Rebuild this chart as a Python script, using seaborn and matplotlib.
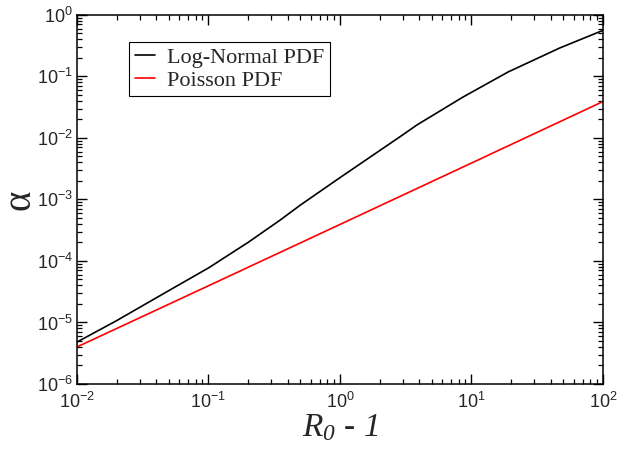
import numpy as np
import pandas as pd
import matplotlib
matplotlib.use('Agg')
import matplotlib.pyplot as plt
import seaborn as sns
from matplotlib.ticker import LogLocator

# Values
lognormal_x = [0.01, 0.02, 0.05, 0.1, 0.2, 0.35, 0.5, 1.0, 2.0, 3.0, 3.86, 8.6, 19.0, 47.0, 100.0]
lognormal_y = [4.8e-6, 1.07e-5, 3.3e-5, 7.7e-5, 2.0e-4, 4.6e-4, 8.1e-4, 2.26e-3,
               6.2e-3, 1.12e-2, 1.63e-2, 4.6e-2, 1.18e-1, 2.9e-1, 5.6e-1]
poisson_x = [0.01, 0.1, 1.0, 10.0, 100.0]
poisson_y = [4.0e-6, 3.95e-5, 3.92e-4, 3.9e-3, 3.9e-2]

df = pd.concat([
    pd.DataFrame({'x': lognormal_x, 'y': lognormal_y, 'series': 'Log-Normal PDF'}),
    pd.DataFrame({'x': poisson_x, 'y': poisson_y, 'series': 'Poisson PDF'}),
])

sns.set_style('ticks')
plt.rcParams['font.family'] = ['Liberation Sans', 'DejaVu Sans']
plt.rcParams['mathtext.fontset'] = 'custom'
plt.rcParams['mathtext.rm'] = 'Liberation Sans'
plt.rcParams['mathtext.it'] = 'Liberation Serif:italic'
plt.rcParams['mathtext.sf'] = 'Liberation Serif:italic'  # italic digits for the subscript
plt.rcParams['mathtext.default'] = 'regular'

fig = plt.figure(figsize=(6.28, 4.49), dpi=100)
ax = fig.add_axes([0.1226, 0.1448, 0.8374, 0.822])

sns.lineplot(
    data=df, x='x', y='y', hue='series',
    palette={'Log-Normal PDF': 'black', 'Poisson PDF': 'red'},
    linewidth=1.2, ax=ax, sort=False, estimator=None
)

ax.set_xscale('log')
ax.set_yscale('log')
ax.set_xlim(1e-2, 1e2)
ax.set_ylim(1e-6, 1e0)

ax.xaxis.set_major_locator(LogLocator(base=10, numticks=10))
ax.yaxis.set_major_locator(LogLocator(base=10, numticks=10))
ax.xaxis.set_minor_locator(LogLocator(base=10, subs=np.arange(2, 10), numticks=20))
ax.yaxis.set_minor_locator(LogLocator(base=10, subs=np.arange(2, 10), numticks=20))

ax.tick_params(which='both', direction='in', top=True, right=True, color='black')
ax.tick_params(which='major', length=7, width=1.0, labelsize=13)
ax.tick_params(axis='x', which='major', pad=6)
ax.tick_params(axis='y', which='major', pad=3)
ax.tick_params(which='minor', length=3.5, width=0.9)
for s in ax.spines.values():
    s.set_linewidth(1.1)
    s.set_color('black')

ax.set_xlabel(r'$\mathsf{R}_{\mathsf{0}}$ - 1', fontsize=24, family='Liberation Serif',
              fontstyle='italic', labelpad=0)
ax.set_ylabel('α', fontsize=28, family='Liberation Serif', labelpad=-1)

leg = ax.legend(loc='upper left', bbox_to_anchor=(0.099, 0.927), borderaxespad=0,
                frameon=True, fancybox=False, edgecolor='black', framealpha=1,
                prop={'family': 'Liberation Serif', 'size': 16},
                handlelength=0.9, handletextpad=0.55, borderpad=0.25,
                labelspacing=0.1, title=None)
leg.get_frame().set_linewidth(0.8)

fig.savefig('out.png', dpi=100)
